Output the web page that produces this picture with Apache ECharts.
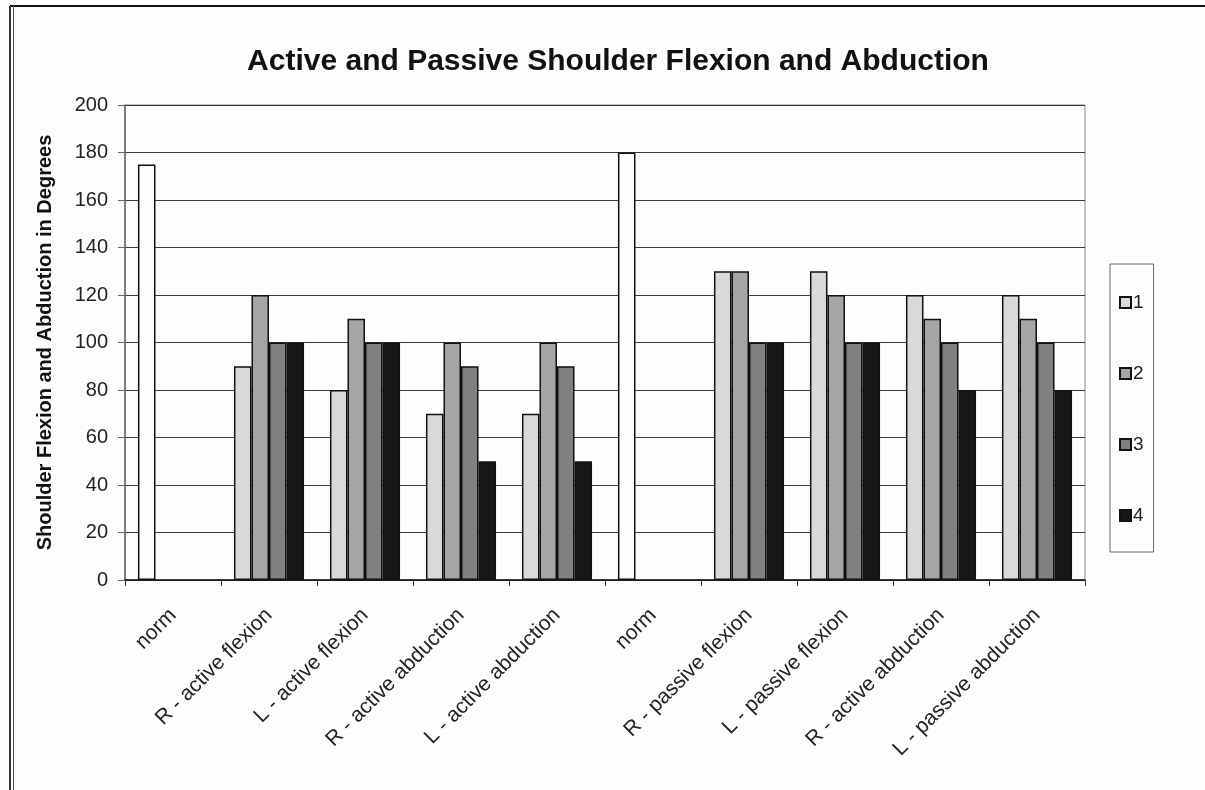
<!DOCTYPE html>
<html>
<head>
<meta charset="utf-8">
<script src="https://cdn.jsdelivr.net/npm/echarts@6/dist/echarts.min.js"></script>
<style>
  html, body { margin: 0; padding: 0; background: #fdfdfb; }
  #chart { width: 1205px; height: 790px; }
</style>
</head>
<body>
<div id="chart"></div>
<script>
// categories along the x axis
const categories = [
  'norm', 'R - active flexion', 'L - active flexion', 'R - active abduction', 'L - active abduction',
  'norm', 'R - passive flexion', 'L - passive flexion', 'R - active abduction', 'L - passive abduction'
];

// series values (the two "norm" bars sit in series 1 but are drawn white)
const series1 = [175, 90, 80, 70, 70, 180, 130, 130, 120, 120];
const series2 = [null, 120, 110, 100, 100, null, 130, 120, 110, 110];
const series3 = [null, 100, 100, 90, 90, null, 100, 100, 100, 100];
const series4 = [null, 100, 100, 50, 50, null, 100, 100, 80, 80];
const normIdx = [0, 5];

const seriesNames = ['1', '2', '3', '4'];
const colors = ['#d8d9d9', '#a5a5a5', '#7f8080', '#151719'];
const yTicks = [0, 20, 40, 60, 80, 100, 120, 140, 160, 180, 200];

const chart = echarts.init(document.getElementById('chart'));
const font = 'Liberation Sans, Arial';

const allData = [series1, series2, series3, series4];

const option = {
  backgroundColor: '#fdfdfb',
  animation: false,
  title: {
    text: 'Active and Passive Shoulder Flexion and Abduction',
    left: 613,
    textAlign: 'center',
    top: 42,
    textStyle: { fontFamily: font, fontSize: 30, fontWeight: 'bold', color: '#111' }
  },
  legend: {
    orient: 'vertical',
    left: 1110,
    top: 264,
    width: 44,
    padding: [29, 10, 27, 9],
    itemGap: 52,
    itemWidth: 11,
    itemHeight: 11,
    borderColor: '#666',
    borderWidth: 1,
    icon: 'rect',
    textStyle: { fontFamily: font, fontSize: 19, color: '#222', padding: [0, 0, 0, -3] },
    data: seriesNames
  },
  grid: {
    left: 125, right: 120, top: 105, bottom: 210,
    show: true, borderColor: '#8a8a8a', borderWidth: 1
  },
  xAxis: {
    type: 'category',
    data: categories,
    axisLine: { lineStyle: { color: '#111', width: 1.5 } },
    axisTick: { show: true, length: 6, lineStyle: { color: '#333' } },
    axisLabel: {
      rotate: 45, interval: 0, margin: 32,
      fontFamily: font, fontSize: 21, color: '#222'
    }
  },
  yAxis: {
    type: 'value',
    min: 0, max: 200, interval: 20,
    name: 'Shoulder Flexion and Abduction in Degrees',
    nameLocation: 'middle',
    nameGap: 70,
    nameTextStyle: { fontFamily: font, fontSize: 20, fontWeight: 'bold', color: '#111' },
    axisLine: { show: true, lineStyle: { color: '#666', width: 1.5 } },
    axisTick: { show: true, length: 7, inside: false, lineStyle: { color: '#666' } },
    axisLabel: {
      margin: 17, fontFamily: font, fontSize: 20, color: '#222',
      formatter: v => yTicks.includes(v) ? String(v) : ''
    },
    splitLine: { lineStyle: { color: '#3a3a3a', width: 1 } }
  },
  series: allData.map((vals, i) => ({
    name: seriesNames[i],
    type: 'bar',
    barGap: '0%',
    barCategoryGap: '27%',
    itemStyle: { color: colors[i], borderColor: '#111', borderWidth: 1.5 },
    data: vals.map((v, j) => (i === 0 && normIdx.includes(j))
      ? { value: v, itemStyle: { color: '#fdfdfb' } }
      : v)
  })),
  graphic: [
    { type: 'line', shape: { x1: 10, y1: 6, x2: 1205, y2: 6 }, style: { stroke: '#111', lineWidth: 2 } },
    { type: 'line', shape: { x1: 10, y1: 6, x2: 10, y2: 790 }, style: { stroke: '#333', lineWidth: 2 } },
    { type: 'line', shape: { x1: 13.5, y1: 6, x2: 13.5, y2: 790 }, style: { stroke: '#555', lineWidth: 1 } }
  ]
};

chart.setOption(option);
</script>
</body>
</html>
